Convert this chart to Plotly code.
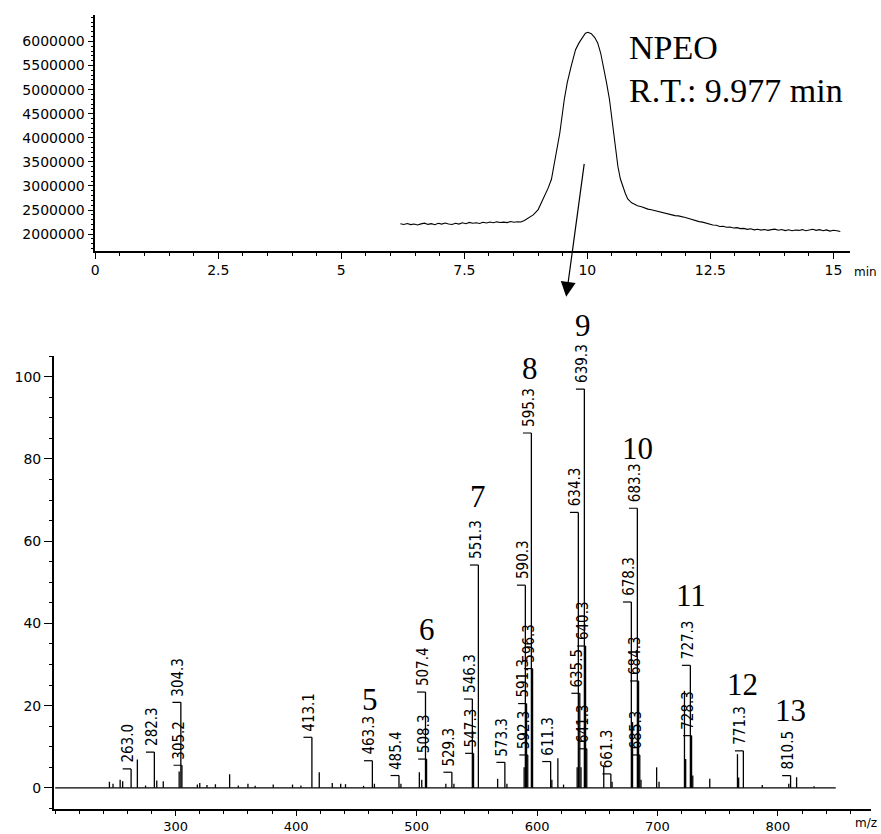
import plotly.graph_objects as go

# ---------------- total ion chromatogram (retention time in min, counts) ----------------
rt_min = [6.20, 6.27, 6.34, 6.41, 6.48, 6.55, 6.62, 6.69, 6.76, 6.83, 6.90, 6.97, 7.04,
          7.11, 7.18, 7.25, 7.32, 7.39, 7.46, 7.53, 7.60, 7.67, 7.74, 7.81, 7.88, 7.95,
          8.02, 8.09, 8.16, 8.23, 8.30, 8.37, 8.44, 8.51, 8.58, 8.65, 8.72,
          8.80, 8.90, 9.00, 9.10, 9.20, 9.27, 9.32, 9.38, 9.44, 9.53, 9.59, 9.67, 9.76,
          9.83, 9.88, 9.96, 10.01, 10.08, 10.15, 10.21, 10.27, 10.33, 10.39, 10.45, 10.54,
          10.62, 10.67, 10.72, 10.77, 10.82, 10.90, 10.96, 11.02, 11.10, 11.16, 11.23,
          11.30, 11.36, 11.43, 11.50, 11.57, 11.64, 11.71, 11.78, 11.85, 11.92, 11.99,
          12.06, 12.13, 12.20, 12.27, 12.34, 12.41, 12.48, 12.55, 12.62, 12.69, 12.76,
          12.83, 12.90, 12.97, 13.04, 13.11, 13.18, 13.25, 13.32, 13.39, 13.46, 13.53,
          13.60, 13.67, 13.74, 13.81, 13.88, 13.95, 14.02, 14.09, 14.16, 14.23, 14.30,
          14.37, 14.44, 14.51, 14.58, 14.65, 14.72, 14.79, 14.86, 14.93, 15.00, 15.07,
          15.14]
tic_counts = [2215000, 2200000, 2222000, 2198000, 2212000, 2190000, 2214000, 2228000,
              2203000, 2218000, 2196000, 2226000, 2208000, 2232000, 2212000, 2200000,
              2227000, 2210000, 2238000, 2218000, 2244000, 2226000, 2236000, 2222000,
              2248000, 2232000, 2252000, 2238000, 2256000, 2242000, 2250000, 2240000,
              2262000, 2248000, 2258000, 2252000, 2285000,
              2330000, 2400000, 2510000, 2720000, 2950000, 3140000, 3410000, 3760000,
              4100000, 4790000, 5140000, 5480000, 5830000, 5970000, 6050000, 6170000,
              6190000, 6160000, 6080000, 5970000, 5760000, 5480000, 5140000, 4790000,
              4100000, 3410000, 3150000, 2990000, 2850000, 2730000, 2650000, 2620000,
              2590000, 2570000, 2545000, 2520000, 2505000, 2490000, 2465000, 2455000,
              2440000, 2420000, 2410000, 2385000, 2380000, 2355000, 2345000, 2325000,
              2300000, 2290000, 2260000, 2250000, 2225000, 2215000, 2190000, 2185000,
              2160000, 2165000, 2145000, 2150000, 2128000, 2135000, 2115000, 2120000,
              2100000, 2112000, 2090000, 2102000, 2085000, 2098000, 2080000, 2095000,
              2105000, 2082000, 2098000, 2075000, 2092000, 2070000, 2088000, 2078000,
              2095000, 2072000, 2090000, 2102000, 2080000, 2094000, 2070000, 2088000,
              2064000, 2082000, 2070000, 2055000, 2068000, 2040000, 2030000]

# ---------------- mass spectrum at the NPEO peak ----------------
# annotated ions (m/z, relative abundance %)
labeled_mz = [263.0, 282.3, 304.3, 305.2, 413.1, 463.3, 485.4, 507.4, 508.3, 529.3,
              546.3, 547.3, 551.3, 573.3, 590.3, 591.3, 592.3, 595.3, 596.3, 611.3,
              634.3, 635.5, 639.3, 640.3, 641.3, 661.3, 678.3, 683.3, 684.3, 685.3,
              727.3, 728.3, 771.3, 810.5]
labeled_abund = [4.6, 8.7, 20.8, 5.5, 12.3, 6.6, 3.0, 23.3, 7.0, 3.8,
                 21.6, 8.4, 54.2, 6.2, 49.3, 20.5, 8.0, 86.3, 29.0, 6.4,
                 67.0, 23.0, 97.0, 34.5, 9.5, 3.4, 45.2, 68.0, 26.0, 8.0,
                 29.8, 12.7, 9.0, 3.0]
# minor ions without annotation
other_mz = [245.0, 248.0, 253.9, 256.0, 268.2, 275.0, 284.3, 289.7, 302.9, 318.0,
            320.0, 326.0, 333.0, 344.8, 352.0, 360.0, 366.0, 381.0, 397.0, 404.0,
            419.2, 430.0, 437.0, 441.0, 456.0, 465.0, 487.0, 502.3, 504.3, 524.3,
            531.0, 567.3, 575.0, 589.3, 612.3, 617.3, 622.0, 633.3, 636.5, 655.4,
            662.3, 679.3, 686.3, 699.3, 701.3, 722.4, 723.4, 729.3, 743.4, 766.4,
            767.4, 787.0, 809.0, 815.5, 830.0]
other_abund = [1.5, 1.0, 2.0, 1.6, 6.9, 0.6, 1.8, 1.6, 4.0, 0.8,
               1.2, 0.7, 0.9, 3.3, 0.6, 1.0, 0.5, 0.8, 0.8, 0.6,
               3.8, 1.2, 1.0, 0.9, 0.5, 1.0, 1.0, 3.8, 2.0, 1.0,
               1.0, 2.2, 1.0, 5.0, 2.0, 7.2, 0.8, 5.0, 5.0, 5.5,
               1.5, 16.0, 2.0, 5.0, 1.5, 23.6, 7.0, 3.0, 2.2, 8.2,
               2.5, 0.7, 1.0, 2.6, 0.4]

# ethoxylate chain length of each oligomer cluster, with its label anchor (m/z, %)
eo_units = ["5", "6", "7", "8", "9", "10", "11", "12", "13"]
eo_mz = [461.6, 508.7, 551.4, 594.1, 638.4, 683.1, 727.7, 770.7, 810.3]
eo_abund = [21.5, 38.5, 70.9, 102.0, 112.4, 82.6, 46.7, 25.1, 18.9]

mz_baseline = [200.0, 848.0]

# ---------------------------------------------------------------------------
SERIF = "Liberation Serif, Times New Roman, serif"
SANS = "DejaVu Sans, Arial, sans-serif"
NARROW = "Liberation Sans Narrow, DejaVu Sans Condensed, Arial Narrow, sans-serif"

# spectrum panel geometry (paper fractions) and its intensity range
SPEC_Y_DOMAIN = [1 - 812 / 834, 1 - 357 / 834]
SPEC_Y_RANGE = [-5.16, 105.1]


def spec_y_to_paper(v):
    """Map a relative abundance to paper coordinates (for labels above the axis top)."""
    f = (v - SPEC_Y_RANGE[0]) / (SPEC_Y_RANGE[1] - SPEC_Y_RANGE[0])
    return SPEC_Y_DOMAIN[0] + f * (SPEC_Y_DOMAIN[1] - SPEC_Y_DOMAIN[0])


fig = go.Figure()

fig.add_trace(go.Scatter(x=rt_min, y=tic_counts, mode="lines",
                         line=dict(color="black", width=1.1),
                         xaxis="x", yaxis="y", hoverinfo="skip", showlegend=False))

# stick spectrum
all_mz = labeled_mz + other_mz
all_ab = labeled_abund + other_abund
sx, sy = [], []
for m, a in zip(all_mz, all_ab):
    sx += [m, m, None]
    sy += [0, a, None]
fig.add_trace(go.Scatter(x=sx, y=sy, mode="lines",
                         line=dict(color="black", width=1.3),
                         xaxis="x2", yaxis="y2", hoverinfo="skip", showlegend=False))

# baseline of the spectrum
fig.add_trace(go.Scatter(x=mz_baseline, y=[0, 0], mode="lines",
                         line=dict(color="black", width=1.4),
                         xaxis="x2", yaxis="y2", hoverinfo="skip", showlegend=False))

# short tick at the apex of each annotated ion
dx, dy = [], []
for m, a in zip(labeled_mz, labeled_abund):
    dx += [m - 7, m, None]
    dy += [a, a, None]
fig.add_trace(go.Scatter(x=dx, y=dy, mode="lines",
                         line=dict(color="black", width=1.2),
                         xaxis="x2", yaxis="y2", hoverinfo="skip", showlegend=False))

annotations = []
for m, a in zip(labeled_mz, labeled_abund):
    annotations.append(dict(
        x=m, y=spec_y_to_paper(a), xref="x2", yref="paper", text=f"{m:.1f}",
        textangle=-90, showarrow=False, xanchor="center", yanchor="bottom",
        xshift=-3, yshift=4,
        font=dict(family=NARROW, size=15, color="black")))

for n, m, a in zip(eo_units, eo_mz, eo_abund):
    annotations.append(dict(
        x=m, y=spec_y_to_paper(a), xref="x2", yref="paper", text=n, showarrow=False,
        xanchor="center", yanchor="middle",
        font=dict(family=SERIF, size=31, color="black")))

# compound name and retention time
annotations.append(dict(x=626 / 881, y=1 - 48 / 834, xref="paper", yref="paper",
                        text="NPEO", showarrow=False, xanchor="left", yanchor="middle",
                        font=dict(family=SERIF, size=34, color="black")))
annotations.append(dict(x=626 / 881, y=1 - 91 / 834, xref="paper", yref="paper",
                        text="R.T.: 9.977 min", showarrow=False, xanchor="left",
                        yanchor="middle",
                        font=dict(family=SERIF, size=34, color="black")))

# arrow from the chromatographic peak down to its spectrum
annotations.append(dict(x=9.57, y=700000, ax=9.94, ay=3490000,
                        xref="x", yref="y", axref="x", ayref="y",
                        text="", showarrow=True, arrowhead=2, arrowsize=2.5,
                        arrowwidth=1.2, arrowcolor="black", standoff=0))

# axis unit labels
annotations.append(dict(x=865 / 881, y=1 - 273 / 834, xref="paper", yref="paper",
                        text="min", showarrow=False, xanchor="center", yanchor="middle",
                        font=dict(family=SANS, size=12, color="black")))
annotations.append(dict(x=866 / 881, y=1 - 826 / 834, xref="paper", yref="paper",
                        text="m/z", showarrow=False, xanchor="center", yanchor="middle",
                        font=dict(family=SANS, size=12, color="black")))

axis_common = dict(showline=True, linecolor="black", linewidth=1.5, ticks="outside",
                   tickcolor="black", tickwidth=1.2, showgrid=False, zeroline=False,
                   mirror=False)

fig.update_layout(
    width=881, height=834, autosize=False,
    margin=dict(l=0, r=0, t=0, b=0),
    paper_bgcolor="white", plot_bgcolor="white",
    showlegend=False,
    annotations=annotations,
    xaxis=dict(**axis_common, domain=[91.7 / 881, 850 / 881], anchor="y",
               range=[0, 15.34], tickmode="linear", tick0=0, dtick=2.5, ticklen=6,
               minor=dict(tickmode="linear", tick0=0, dtick=0.5, ticks="outside",
                          ticklen=3, tickcolor="black"),
               tickfont=dict(family=SANS, size=14, color="black")),
    yaxis=dict(**axis_common, domain=[1 - 251.7 / 834, 1 - 15 / 834], anchor="x",
               range=[1655000, 6550000], tickmode="array",
               tickvals=[2000000, 2500000, 3000000, 3500000, 4000000, 4500000,
                         5000000, 5500000, 6000000],
               tickformat="d", ticklen=6,
               minor=dict(tickmode="linear", tick0=0, dtick=100000, ticks="outside",
                          ticklen=3, tickcolor="black"),
               tickfont=dict(family=SANS, size=14, color="black")),
    xaxis2=dict(**axis_common, domain=[50 / 881, 871 / 881], anchor="y2",
                range=[198.8, 877.3], tickmode="array",
                tickvals=[300, 400, 500, 600, 700, 800], ticklen=5,
                minor=dict(tickmode="linear", tick0=0, dtick=20, ticks="outside",
                           ticklen=3, tickcolor="black"),
                tickfont=dict(family=SANS, size=13, color="black")),
    yaxis2=dict(**axis_common, domain=SPEC_Y_DOMAIN, anchor="x2",
                range=SPEC_Y_RANGE, tickmode="array",
                tickvals=[0, 20, 40, 60, 80, 100], ticklen=8,
                minor=dict(tickmode="linear", tick0=0, dtick=5, ticks="outside",
                           ticklen=3, tickcolor="black"),
                tickfont=dict(family=SANS, size=14, color="black")),
)

fig.write_html("out.html")
